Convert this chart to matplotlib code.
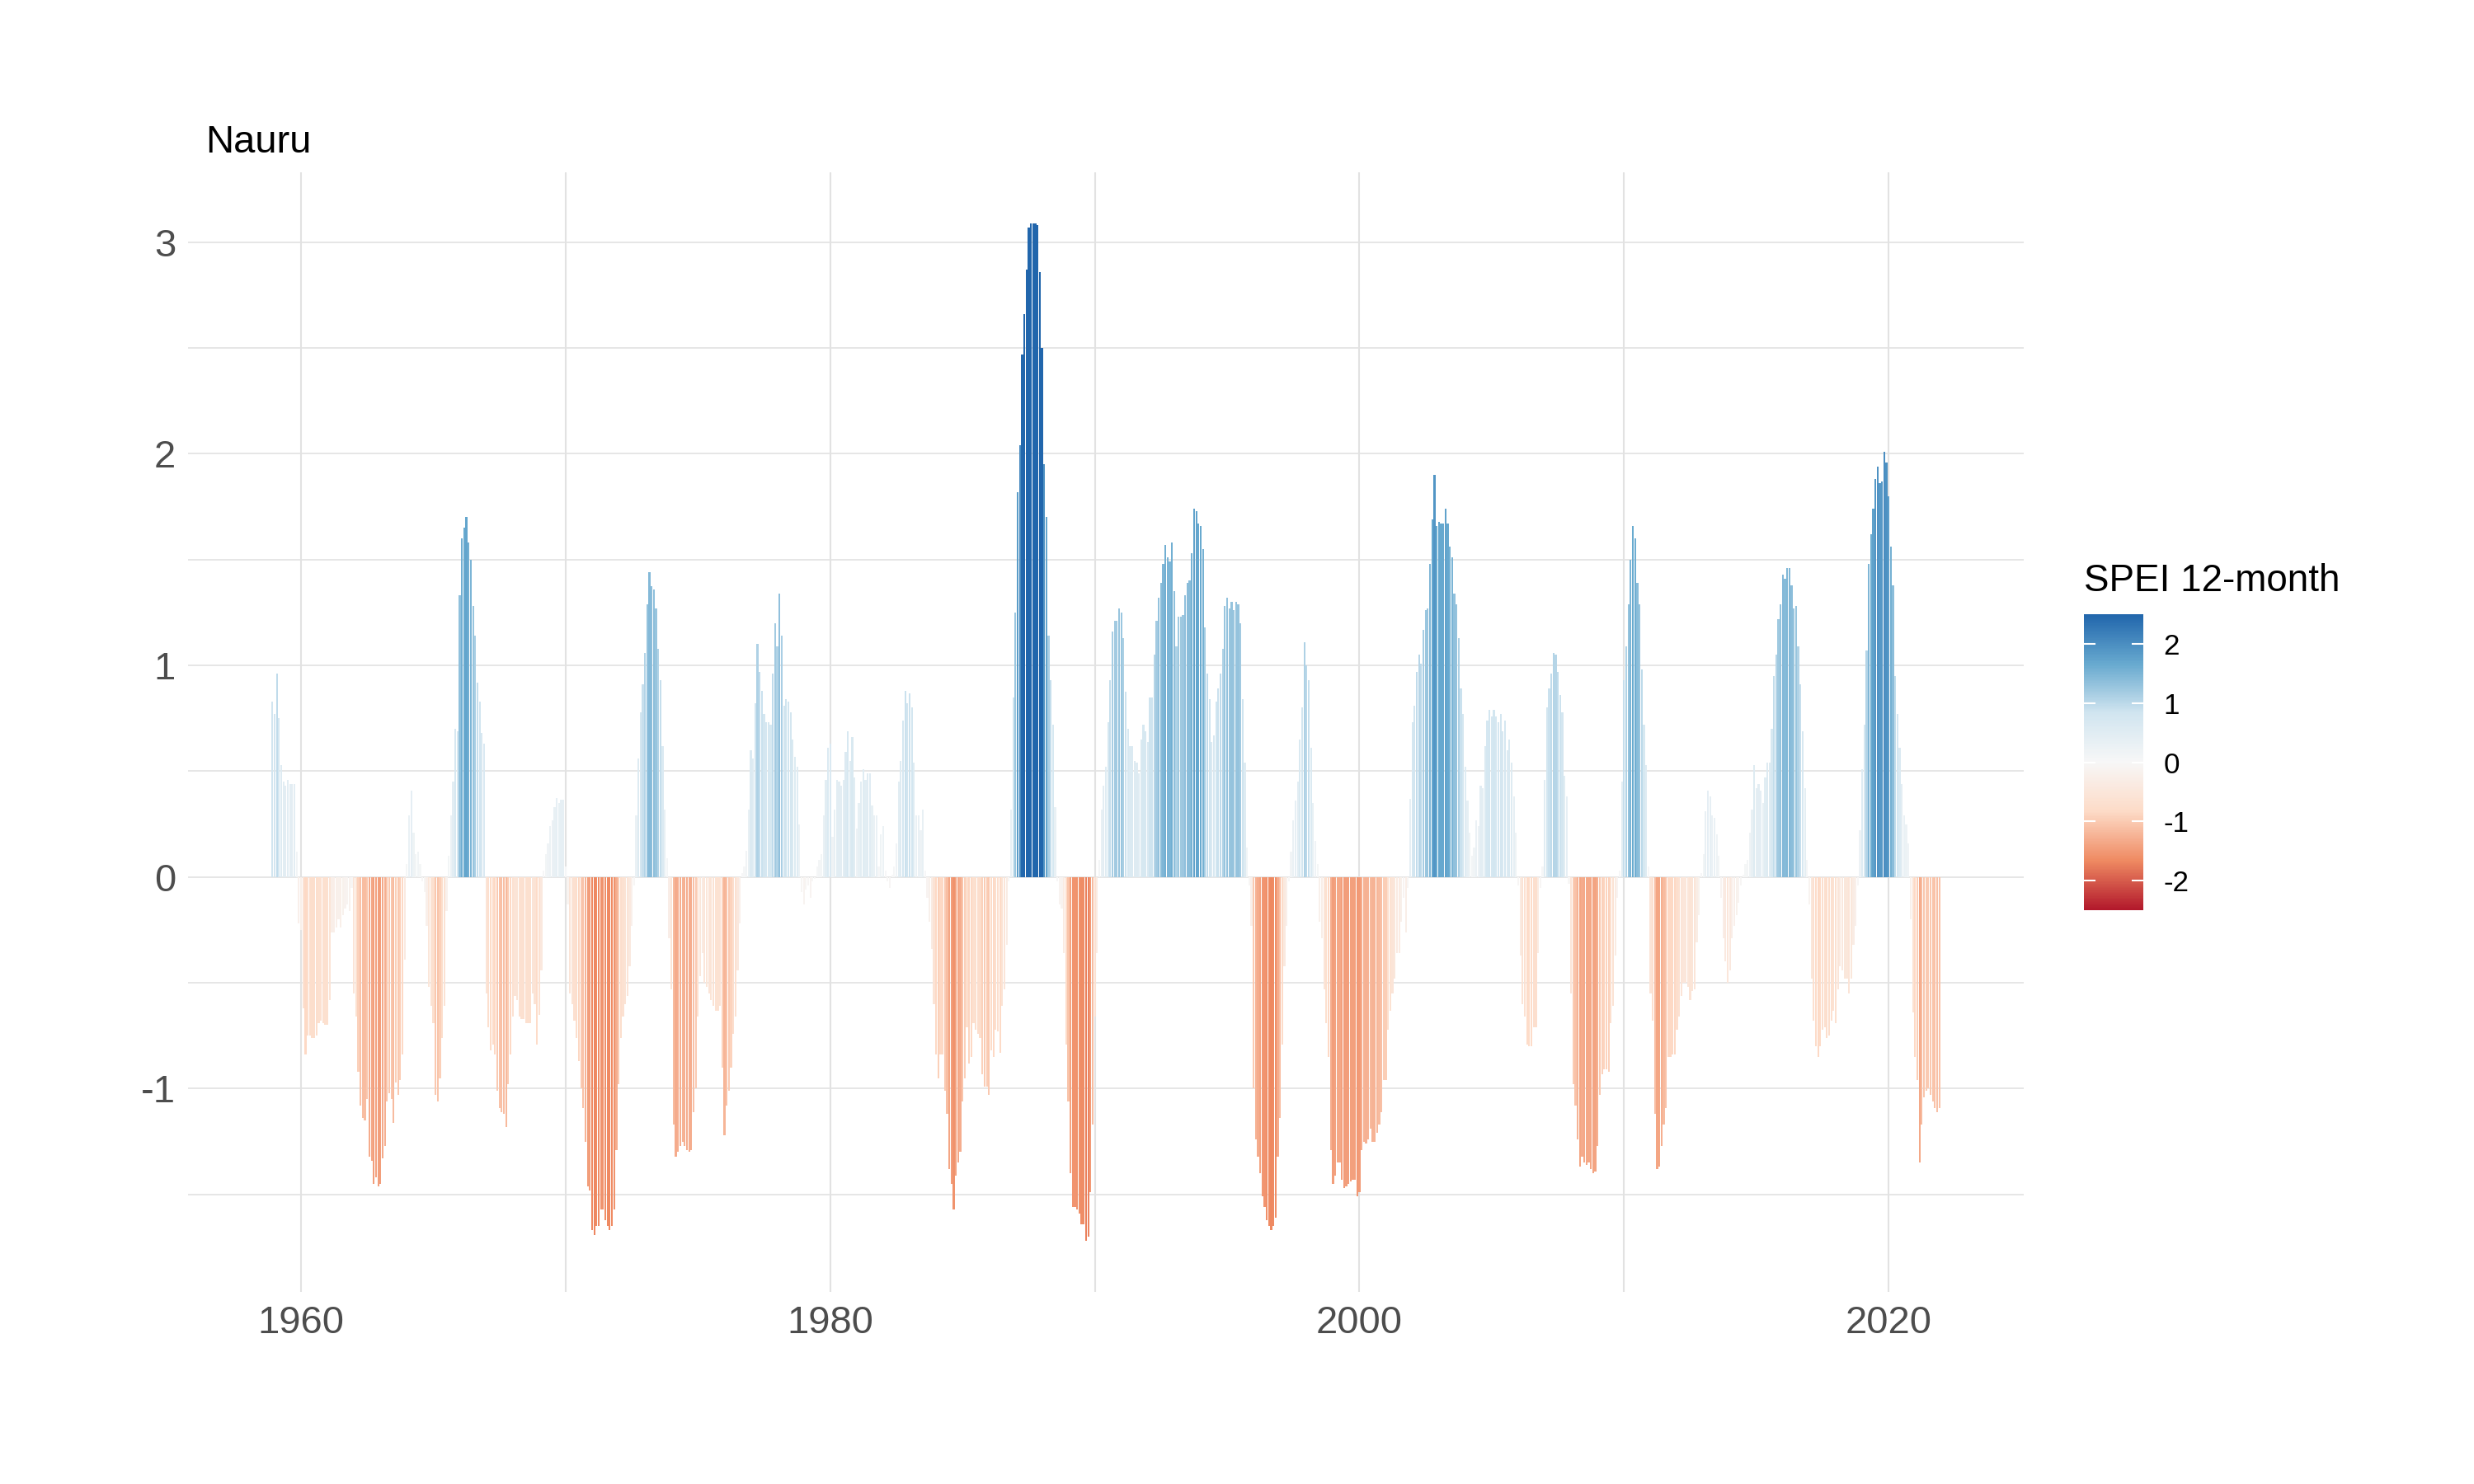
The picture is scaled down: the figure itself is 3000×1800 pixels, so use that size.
import numpy as np
import matplotlib
matplotlib.use('Agg')
import matplotlib.pyplot as plt
from matplotlib.colors import LinearSegmentedColormap, Normalize
from matplotlib import cm, transforms

plt.rcParams['font.family'] = ['Liberation Sans', 'DejaVu Sans']
plt.rcParams['axes.unicode_minus'] = False

# monthly SPEI-12 for Nauru, first value is Dec 1958, last is Dec 2021
start_year = 1958
start_month = 12
spei = [
    0.83, 0.77, 0.96, 0.75, 0.53, 0.45, 0.43, 0.46, 0.44, 0.44, 0.44, 0.12,
    -0.22, -0.25, -0.62, -0.84, -0.75, -0.75, -0.76, -0.76, -0.75, -0.69, -0.68, -0.69,
    -0.70, -0.70, -0.58, -0.26, -0.26, -0.24, -0.20, -0.24, -0.18, -0.15, -0.13, -0.16,
    -0.05, -0.55, -0.66, -0.92, -1.08, -1.14, -1.15, -1.05, -1.32, -1.34, -1.45, -1.42,
    -1.46, -1.45, -1.33, -1.27, -1.06, -1.02, -1.05, -1.16, -0.97, -1.03, -0.96, -0.84,
    -0.39, 0.06, 0.29, 0.41, 0.21, 0.11, 0.12, 0.06, -0.02, -0.07, -0.23, -0.52,
    -0.61, -0.69, -1.03, -1.06, -0.95, -0.76, -0.61, -0.16, 0.10, 0.29, 0.45, 0.70,
    0.69, 1.33, 1.60, 1.65, 1.70, 1.58, 1.50, 1.28, 1.14, 0.92, 0.83, 0.68,
    0.63, -0.55, -0.71, -0.82, -0.79, -0.84, -1.01, -1.09, -1.11, -1.12, -1.18, -0.98,
    -0.84, -0.66, -0.56, -0.58, -0.66, -0.67, -0.67, -0.69, -0.69, -0.69, -0.55, -0.60,
    -0.79, -0.65, -0.44, 0.03, 0.11, 0.16, 0.24, 0.27, 0.33, 0.375, 0.35, 0.365,
    0.365, 0.05, -0.13, -0.55, -0.60, -0.68, -0.76, -0.87, -1.00, -1.09, -1.25, -1.46,
    -1.48, -1.67, -1.69, -1.65, -1.65, -1.57, -1.57, -1.62, -1.65, -1.67, -1.65, -1.57,
    -1.29, -0.98, -0.76, -0.66, -0.60, -0.56, -0.42, -0.23, -0.04, 0.29, 0.56, 0.78,
    0.91, 1.06, 1.29, 1.44, 1.375, 1.36, 1.27, 1.08, 0.93, 0.62, 0.32, 0.09,
    -0.29, -0.53, -1.17, -1.32, -1.30, -1.27, -1.25, -1.27, -1.29, -1.30, -1.29, -1.11,
    -1.00, -0.66, -0.47, -0.36, -0.50, -0.52, -0.55, -0.58, -0.61, -0.63, -0.63, -0.61,
    -0.90, -1.22, -1.08, -1.01, -0.90, -0.74, -0.66, -0.44, -0.22, 0.02, 0.05, 0.125,
    0.32, 0.60, 0.56, 0.82, 1.10, 0.97, 0.88, 0.77, 0.73, 0.73, 0.72, 0.96,
    1.20, 1.09, 1.34, 1.14, 0.81, 0.84, 0.83, 0.78, 0.65, 0.57, 0.52, 0.25,
    -0.07, -0.13, -0.06, -0.04, -0.10, -0.02, -0.01, 0.05, 0.08, 0.11, 0.29, 0.46,
    0.61, 0.63, 0.19, 0.32, 0.46, 0.45, 0.43, 0.46, 0.59, 0.69, 0.55, 0.66,
    0.47, 0.23, 0.35, 0.45, 0.51, 0.46, 0.49, 0.49, 0.34, 0.29, 0.29, 0.05,
    0.20, 0.24, 0.03, -0.02, -0.05, 0.01, 0.05, 0.16, 0.45, 0.55, 0.74, 0.88,
    0.82, 0.87, 0.80, 0.54, 0.29, 0.29, 0.22, 0.32, 0.03, -0.10, -0.21, -0.34,
    -0.60, -0.84, -0.95, -0.84, -0.84, -1.01, -1.12, -1.38, -1.45, -1.57, -1.41, -1.35,
    -1.30, -1.06, -0.95, -0.71, -0.88, -0.85, -0.69, -0.72, -0.74, -0.76, -0.93, -0.99,
    -0.99, -1.03, -0.82, -0.85, -0.72, -0.73, -0.83, -0.61, -0.53, -0.32, -0.02, 0.32,
    0.85, 1.25, 1.82, 2.04, 2.47, 2.66, 2.87, 3.07, 3.09, 3.09, 3.09, 3.08,
    2.86, 2.50, 1.95, 1.70, 1.14, 0.93, 0.72, 0.33, -0.02, -0.13, -0.15, -0.36,
    -0.79, -1.06, -1.40, -1.56, -1.56, -1.57, -1.59, -1.64, -1.64, -1.72, -1.70, -1.49,
    -1.17, -0.66, -0.36, 0.08, 0.32, 0.43, 0.52, 0.73, 0.93, 1.16, 1.21, 1.21,
    1.27, 1.25, 1.13, 0.875, 0.70, 0.62, 0.62, 0.55, 0.54, 0.49, 0.65, 0.72,
    0.69, 0.64, 0.85, 0.85, 1.05, 1.21, 1.32, 1.39, 1.48, 1.57, 1.51, 1.49,
    1.58, 1.35, 1.09, 1.23, 1.23, 1.24, 1.33, 1.39, 1.40, 1.53, 1.74, 1.73,
    1.67, 1.66, 1.55, 1.18, 0.96, 0.84, 0.64, 0.67, 0.83, 0.89, 0.96, 1.08,
    1.28, 1.32, 1.27, 1.30, 1.26, 1.30, 1.29, 1.20, 0.84, 0.54, 0.14, -0.04,
    -0.23, -1.00, -1.24, -1.32, -1.40, -1.51, -1.56, -1.62, -1.65, -1.67, -1.65, -1.61,
    -1.32, -1.14, -0.79, -0.42, -0.23, -0.02, 0.12, 0.27, 0.36, 0.45, 0.65, 0.80,
    1.11, 1.00, 0.93, 0.61, 0.35, 0.17, 0.06, -0.21, -0.29, -0.53, -0.69, -0.85,
    -1.29, -1.45, -1.41, -1.35, -1.35, -1.43, -1.47, -1.46, -1.45, -1.44, -1.43, -1.43,
    -1.51, -1.49, -1.29, -1.25, -1.26, -1.24, -1.19, -1.25, -1.25, -1.21, -1.17, -1.11,
    -0.96, -0.96, -0.72, -0.63, -0.55, -0.48, -0.36, -0.36, -0.21, -0.10, -0.26, -0.05,
    0.37, 0.73, 0.81, 0.97, 1.05, 1.01, 1.17, 1.26, 1.27, 1.48, 1.69, 1.90,
    1.66, 1.68, 1.67, 1.67, 1.74, 1.67, 1.56, 1.51, 1.34, 1.29, 1.13, 0.89,
    0.77, 0.52, 0.36, 0.21, 0.10, 0.14, 0.27, 0.24, 0.43, 0.42, 0.62, 0.74,
    0.79, 0.76, 0.79, 0.76, 0.73, 0.77, 0.69, 0.74, 0.60, 0.65, 0.54, 0.38,
    0.21, -0.04, -0.37, -0.60, -0.66, -0.79, -0.80, -0.80, -0.71, -0.71, -0.36, -0.05,
    0.05, 0.46, 0.80, 0.89, 0.96, 1.06, 1.05, 0.97, 0.86, 0.78, 0.48, 0.38,
    -0.03, -0.55, -0.98, -1.08, -1.24, -1.37, -1.32, -1.35, -1.36, -1.35, -1.38, -1.40,
    -1.39, -1.27, -1.03, -0.93, -0.91, -0.91, -0.92, -0.69, -0.61, -0.37, -0.10, 0.03,
    0.45, 0.93, 1.09, 1.29, 1.50, 1.66, 1.60, 1.39, 1.29, 0.98, 0.72, 0.53,
    0.05, -0.55, -0.68, -1.12, -1.38, -1.37, -1.27, -1.17, -1.09, -0.85, -0.85, -0.84,
    -0.84, -0.72, -0.66, -0.56, -0.50, -0.50, -0.52, -0.58, -0.54, -0.53, -0.31, -0.18,
    0.02, 0.11, 0.31, 0.41, 0.38, 0.29, 0.28, 0.20, 0.10, -0.10, -0.29, -0.40,
    -0.50, -0.44, -0.29, -0.23, -0.18, -0.12, -0.04, 0.01, 0.06, 0.08, 0.21, 0.32,
    0.53, 0.42, 0.44, 0.41, 0.35, 0.47, 0.54, 0.54, 0.70, 0.95, 1.05, 1.22,
    1.29, 1.43, 1.41, 1.46, 1.46, 1.38, 1.27, 1.28, 1.09, 0.91, 0.69, 0.42,
    0.08, -0.13, -0.48, -0.68, -0.80, -0.85, -0.80, -0.72, -0.71, -0.76, -0.75, -0.68,
    -0.63, -0.69, -0.53, -0.42, -0.44, -0.48, -0.48, -0.55, -0.48, -0.32, -0.23, -0.04,
    0.22, 0.51, 0.72, 1.07, 1.48, 1.62, 1.74, 1.88, 1.94, 1.86, 1.87, 2.01,
    1.96, 1.80, 1.56, 1.38, 0.95, 0.77, 0.61, 0.44, 0.29, 0.25, 0.16, -0.20,
    -0.64, -0.85, -0.96, -1.35, -1.17, -1.04, -1.01, -1.00, -1.03, -1.06, -1.09, -1.11,
    -1.09,
]

title = "Nauru"
legend_title = "SPEI 12-month"
x_ticks = [1960, 1980, 2000, 2020]
y_ticks = [-1, 0, 1, 2, 3]
legend_ticks = [-2, -1, 0, 1, 2]
# RdBu, 7 classes, as used by ggplot's distiller scale
rdbu = ['#B2182B', '#EF8A62', '#FDDBC7', '#F7F7F7', '#D1E5F0', '#67A9CF', '#2166AC']
fill_limits = (-2.5, 2.5)

vals = np.array(spei)
x = start_year + (start_month - 1) / 12 + np.arange(len(vals)) / 12

cmap = LinearSegmentedColormap.from_list('rdbu7', rdbu)
norm = Normalize(*fill_limits, clip=True)

W, H = 3000, 1800
fig = plt.figure(figsize=(10, 6), dpi=300)


def fig_box(left, top, right, bottom):
    return [left / W, 1 - bottom / H, (right - left) / W, (bottom - top) / H]


ax = fig.add_axes(fig_box(228, 209, 2454, 1567))

bar_w = 0.9 * 28 / 365.25
ax.bar(x, vals, width=bar_w, color=cmap(norm(vals)), linewidth=0, zorder=2)

# ggplot-like 5% expansion
x_lo, x_hi = x.min() - bar_w / 2, x.max() + bar_w / 2
y_lo, y_hi = vals.min(), vals.max()
ax.set_xlim(x_lo - 0.05 * (x_hi - x_lo), x_hi + 0.05 * (x_hi - x_lo))
ax.set_ylim(y_lo - 0.05 * (y_hi - y_lo), y_hi + 0.05 * (y_hi - y_lo))

grid_col = '#E2E2E2'
for yr in range(1960, 2021, 10):
    ax.axvline(yr, color=grid_col, lw=0.5, zorder=0)
for yv in np.arange(-1.5, 3.01, 0.5):
    ax.axhline(yv, color=grid_col, lw=0.4, zorder=0)

ax.set_xticks(x_ticks)
ax.set_yticks(y_ticks)
ax.set_xticklabels([str(t) for t in x_ticks])
ax.set_yticklabels([str(t) for t in y_ticks])
ax.tick_params(length=0, labelsize=11.3, labelcolor='#4D4D4D')
ax.tick_params(axis='y', pad=3.6)
ax.tick_params(axis='x', pad=3.8)
for s in ax.spines.values():
    s.set_visible(False)

fig.text(249 / W, 1 - 185 / H, title, fontsize=11.3, color='black', va='baseline', ha='left')

# colour bar legend
cax = fig.add_axes(fig_box(2527, 745, 2599, 1104))
sm = cm.ScalarMappable(norm=Normalize(*fill_limits), cmap=cmap)
cb = fig.colorbar(sm, cax=cax)
cb.outline.set_visible(False)
cb.set_ticks(legend_ticks)
cb.set_ticklabels([str(t) for t in legend_ticks])
cax.tick_params(length=0, labelsize=8.4, labelcolor='black', pad=5.8)
tr = transforms.blended_transform_factory(cax.transAxes, cax.transData)
for t in legend_ticks:
    cax.plot([0, 0.18], [t, t], color='white', lw=0.5, transform=tr)
    cax.plot([0.82, 1], [t, t], color='white', lw=0.5, transform=tr)

fig.text(2527 / W, 1 - 717 / H, legend_title, fontsize=11, color='black', va='baseline', ha='left')

fig.savefig('out.png', dpi=300, facecolor='white')
